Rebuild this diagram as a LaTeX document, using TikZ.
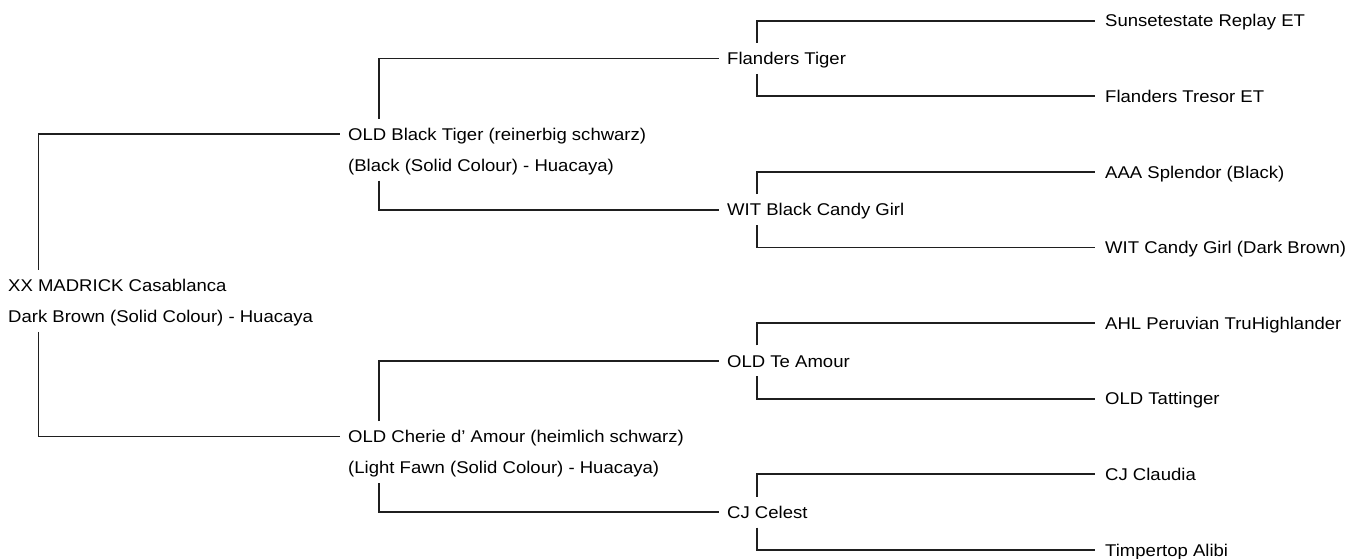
\documentclass[tikz,border=0pt]{standalone}
\usepackage{fontspec}
\usepackage{graphicx}
\setmainfont{Liberation Sans}
\usetikzlibrary{calc}
\newcommand{\nm}[1]{\scalebox{1.09}[1]{#1}}
\tikzset{
  tx/.style={anchor=base west, inner sep=0pt, text=black, font=\fontsize{17}{20}\selectfont},
  ln/.style={draw=black!88, line width=1.7pt, line cap=butt, line join=miter}
}
\begin{document}
\begin{tikzpicture}[x=1pt, y=-1pt]
\useasboundingbox (0,0) rectangle (1354,559);
% root
\node[tx] (r) at (8,291.5) {\nm{XX MADRICK Casablanca}};
\node[tx] (r2) at (8,322.5) {\nm{Dark Brown (Solid Colour) - Huacaya}};
% generation 2
\node[tx] (s) at (348,140.3) {\nm{OLD Black Tiger (reinerbig schwarz)}};
\node[tx] (s2) at (348,171.3) {\nm{(Black (Solid Colour) - Huacaya)}};
\node[tx] (d) at (348,442.7) {\nm{OLD Cherie d’ Amour (heimlich schwarz)}};
\node[tx] (d2) at (348,473.7) {\nm{(Light Fawn (Solid Colour) - Huacaya)}};
% generation 3
\node[tx] (ss) at (727,64.7) {\nm{Flanders Tiger}};
\node[tx] (sd) at (727,215.9) {\nm{WIT Black Candy Girl}};
\node[tx] (ds) at (727,367.1) {\nm{OLD Te Amour}};
\node[tx] (dd) at (727,518.3) {\nm{CJ Celest}};
% generation 4
\node[tx] (sss) at (1105,26.9) {\nm{Sunsetestate Replay ET}};
\node[tx] (ssd) at (1105,102.5) {\nm{Flanders Tresor ET}};
\node[tx] (sds) at (1105,178.1) {\nm{AAA Splendor (Black)}};
\node[tx] (sdd) at (1105,253.7) {\nm{WIT Candy Girl (Dark Brown)}};
\node[tx] (dss) at (1105,329.3) {\nm{AHL Peruvian TruHighlander}};
\node[tx] (dsd) at (1105,404.9) {\nm{OLD Tattinger}};
\node[tx] (dds) at (1105,480.5) {\nm{CJ Claudia}};
\node[tx] (ddd) at (1105,556.1) {\nm{Timpertop Alibi}};
% vertical line positions
\coordinate (v1) at (38.5,0);
\coordinate (v2) at (379,0);
\coordinate (v3) at (757,0);
% root connectors
\draw[ln] ($(v1 |- r.base)+(0,-21.7)$) |- ($(s.base west)+(-8,-6.2)$);
\draw[ln] ($(v1 |- r2.base)+(0,9.3)$) |- ($(d.base west)+(-8,-6.2)$);
% gen 2 connectors
\draw[ln] ($(v2 |- s.base)+(0,-21.7)$) |- ($(ss.base west)+(-8,-6.2)$);
\draw[ln] ($(v2 |- s2.base)+(0,9.3)$) |- ($(sd.base west)+(-8,-6.2)$);
\draw[ln] ($(v2 |- d.base)+(0,-21.7)$) |- ($(ds.base west)+(-8,-6.2)$);
\draw[ln] ($(v2 |- d2.base)+(0,9.3)$) |- ($(dd.base west)+(-8,-6.2)$);
% gen 3 connectors
\draw[ln] ($(v3 |- ss.base)+(0,-21.7)$) |- ($(sss.base west)+(-10,-6.2)$);
\draw[ln] ($(v3 |- ss.base)+(0,9.3)$) |- ($(ssd.base west)+(-10,-6.2)$);
\draw[ln] ($(v3 |- sd.base)+(0,-21.7)$) |- ($(sds.base west)+(-10,-6.2)$);
\draw[ln] ($(v3 |- sd.base)+(0,9.3)$) |- ($(sdd.base west)+(-10,-6.2)$);
\draw[ln] ($(v3 |- ds.base)+(0,-21.7)$) |- ($(dss.base west)+(-10,-6.2)$);
\draw[ln] ($(v3 |- ds.base)+(0,9.3)$) |- ($(dsd.base west)+(-10,-6.2)$);
\draw[ln] ($(v3 |- dd.base)+(0,-21.7)$) |- ($(dds.base west)+(-10,-6.2)$);
\draw[ln] ($(v3 |- dd.base)+(0,9.3)$) |- ($(ddd.base west)+(-10,-6.2)$);
\end{tikzpicture}
\end{document}
